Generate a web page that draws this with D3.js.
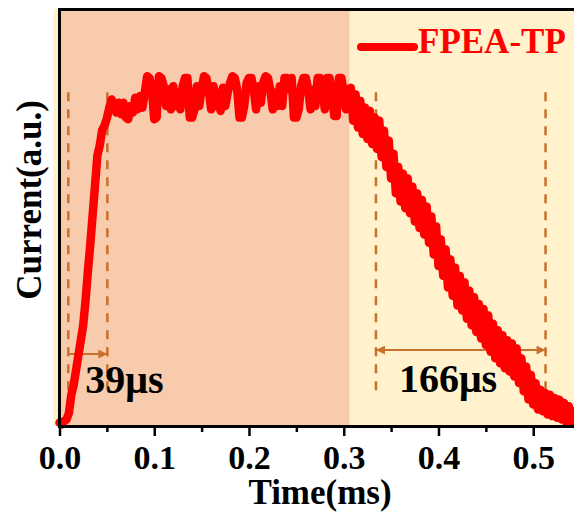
<!DOCTYPE html>
<html>
<head>
<meta charset="utf-8">
<script src="https://cdn.jsdelivr.net/npm/d3@7"></script>
<style>
body { margin: 0; background: #fff; }
text { font-family: "Times New Roman", "Liberation Serif", serif; font-weight: bold; }
</style>
</head>
<body>
<div id="chart"></div>
<script>
// current trace, one sample every sampleStep ms
var sampleStep = 0.0025;
var current = [
    1, 0.5, 1.5, 2, 4, 9.5, 12.5, 17, 21.5, 26,
    30.5, 38, 47, 55, 64, 73, 82, 85, 89.7, 91,
    93.3, 96.4, 99, 97, 95, 98, 94.5, 98, 93.5, 93,
    97, 95, 99.5, 96, 100, 96.5, 101, 106, 105.5, 102,
    93, 93.5, 106, 105.5, 103, 97, 102, 96, 103, 97,
    101, 96, 103, 105.5, 105.5, 93.5, 93.5, 96, 103, 97,
    102, 106, 105.5, 102, 96, 103, 97, 101, 95.5, 102.5,
    97, 101, 104, 106, 105.5, 102, 93.5, 93.5, 97, 104,
    105.5, 105.5, 102, 96, 103, 98, 104, 106, 105.5, 102,
    96, 101, 97, 103, 97, 105.5, 105.5, 102, 105.5, 93.5,
    93.5, 96, 103, 105.5, 105.5, 102, 96, 102, 97, 105.5,
    105.5, 102, 96, 105.5, 105.5, 101, 94, 94, 105.5, 105.5,
    101, 96, 102, 102.5, 92.5, 100.5, 90.5, 98.5, 88.5, 96.5,
    87, 95.5, 85.5, 93.5, 84, 92.5, 81.5, 89.5, 78.5, 86.5,
    75, 82.5, 70.5, 78.5, 68, 76.5, 66, 75, 64.5, 72.5,
    62, 70.5, 60, 68.5, 58, 66.5, 55.5, 63.5, 52, 60.5,
    48.5, 56.5, 45.5, 53.5, 42, 50.5, 39.5, 48, 36.5, 45.5,
    35, 43.5, 32.5, 41, 30.5, 39, 28.5, 37, 26.5, 35.5,
    24.5, 33.5, 22.5, 31, 20.5, 29, 19, 27.5, 17.5, 26,
    16.5, 25, 15, 23.5, 13, 20.5, 10.5, 18, 8, 15.5,
    6.5, 13, 5, 11, 4.5, 10, 3.5, 9.5, 3, 8.5,
    2.5, 8, 2, 7, 1, 6, 0.8, 4.5, 0.5, 3.5, 0.5
];
var xTicks = [0, 0.1, 0.2, 0.3, 0.4, 0.5];
var xMinorTicks = [0.05, 0.15, 0.25, 0.35, 0.45, 0.55];
var xDomain = [0, 0.55];
var yDomain = [0, 126.4];
var regionSplit = 0.306;           // end of the shaded "on" region
var riseMarks = [0.0093, 0.0505];
var fallMarks = [0.334, 0.513];
var markRange = [9.1, 101.2];      // vertical extent of the dashed markers
var riseArrowLevel = 21.8;
var fallArrowLevel = 23;
var riseLabel = "39μs";
var fallLabel = "166μs";
var seriesName = "FPEA-TP";

var width = 574, height = 513;
var plotLeft = 59.5, plotRight = 580.6, plotTop = 9, plotBottom = 426;

var svg = d3.select("#chart")
    .append("svg")
    .attr("width", width)
    .attr("height", height);

var x = d3.scaleLinear().domain(xDomain).range([plotLeft, plotRight]);
var y = d3.scaleLinear().domain(yDomain).range([plotBottom, plotTop]);

var data = current.map(function(v, i) { return { t: i * sampleStep, v: v }; });

// background regions
svg.append("rect")
    .attr("x", plotLeft - 6).attr("y", plotTop)
    .attr("width", plotRight - plotLeft + 6).attr("height", plotBottom - plotTop)
    .attr("fill", "#fff2cc");
svg.append("rect")
    .attr("x", plotLeft).attr("y", plotTop)
    .attr("width", x(regionSplit) - plotLeft).attr("height", plotBottom - plotTop)
    .attr("fill", "#f8cbad");

var markColor = "#c8702c";

// arrow heads
var defs = svg.append("defs");
defs.append("marker")
    .attr("id", "head")
    .attr("viewBox", "0 0 10 10")
    .attr("refX", 10).attr("refY", 5)
    .attr("markerWidth", 14).attr("markerHeight", 9)
    .attr("markerUnits", "userSpaceOnUse")
    .attr("orient", "auto-start-reverse")
    .append("path")
    .attr("d", "M0,0L10,5L0,10z")
    .attr("fill", markColor);

svg.selectAll(".mark")
    .data(riseMarks.concat(fallMarks))
    .enter().append("line")
    .attr("class", "mark")
    .attr("x1", function(d) { return x(d); })
    .attr("x2", function(d) { return x(d); })
    .attr("y1", y(markRange[1]))
    .attr("y2", y(markRange[0]))
    .attr("stroke", markColor)
    .attr("stroke-width", 2.5)
    .attr("stroke-dasharray", "9,8");

svg.append("line")
    .attr("x1", x(riseMarks[0])).attr("x2", x(riseMarks[1]))
    .attr("y1", y(riseArrowLevel)).attr("y2", y(riseArrowLevel))
    .attr("stroke", markColor).attr("stroke-width", 2)
    .attr("marker-end", "url(#head)");

svg.append("line")
    .attr("x1", x(fallMarks[0])).attr("x2", x(fallMarks[1]))
    .attr("y1", y(fallArrowLevel)).attr("y2", y(fallArrowLevel))
    .attr("stroke", markColor).attr("stroke-width", 2)
    .attr("marker-start", "url(#head)")
    .attr("marker-end", "url(#head)");

svg.append("text")
    .attr("x", x(riseMarks[0]) + 17).attr("y", 393)
    .style("font-size", "40px").attr("fill", "#000")
    .text(riseLabel);

svg.append("text")
    .attr("x", x(fallMarks[0]) + 23).attr("y", 392)
    .style("font-size", "40px").attr("fill", "#000")
    .text(fallLabel);

// the trace
var line = d3.line()
    .x(function(d) { return x(d.t); })
    .y(function(d) { return y(d.v); });

svg.append("path")
    .datum(data)
    .attr("d", line)
    .attr("fill", "none")
    .attr("stroke", "#ff0000")
    .attr("stroke-width", 8.5)
    .attr("stroke-linejoin", "round")
    .attr("stroke-linecap", "round");

// x axis, major and minor ticks
var xAxis = svg.append("g")
    .attr("transform", "translate(0," + plotBottom + ")")
    .call(d3.axisBottom(x).tickValues(xTicks).tickFormat(d3.format(".1f")).tickSize(10).tickPadding(9));
xAxis.select(".domain").remove();
xAxis.selectAll("line").attr("stroke", "#000").attr("stroke-width", 2.5);
xAxis.selectAll("text").style("font-size", "34px").attr("fill", "#000");

var xMinor = svg.append("g")
    .attr("transform", "translate(0," + plotBottom + ")")
    .call(d3.axisBottom(x).tickValues(xMinorTicks).tickFormat("").tickSize(6));
xMinor.select(".domain").remove();
xMinor.selectAll("line").attr("stroke", "#000").attr("stroke-width", 2.5);

// frame
svg.append("rect")
    .attr("x", plotLeft).attr("y", plotTop + 0.5)
    .attr("width", plotRight - plotLeft).attr("height", plotBottom - plotTop)
    .attr("fill", "none")
    .attr("stroke", "#000")
    .attr("stroke-width", 3);

// axis titles
svg.append("text")
    .attr("x", (plotLeft + plotRight) / 2).attr("y", 504)
    .attr("text-anchor", "middle")
    .style("font-size", "35px").attr("fill", "#000")
    .text("Time(ms)");

svg.append("text")
    .attr("transform", "translate(41,200) rotate(-90)")
    .attr("text-anchor", "middle")
    .style("font-size", "35px").attr("fill", "#000")
    .text("Current(a.u.)");

// legend
svg.append("line")
    .attr("x1", 361).attr("x2", 414)
    .attr("y1", 47).attr("y2", 47)
    .attr("stroke", "#ff0000")
    .attr("stroke-width", 8)
    .attr("stroke-linecap", "round");
svg.append("text")
    .attr("x", 418).attr("y", 53)
    .style("font-size", "35px").attr("fill", "#ff0000")
    .text(seriesName);
</script>
</body>
</html>
